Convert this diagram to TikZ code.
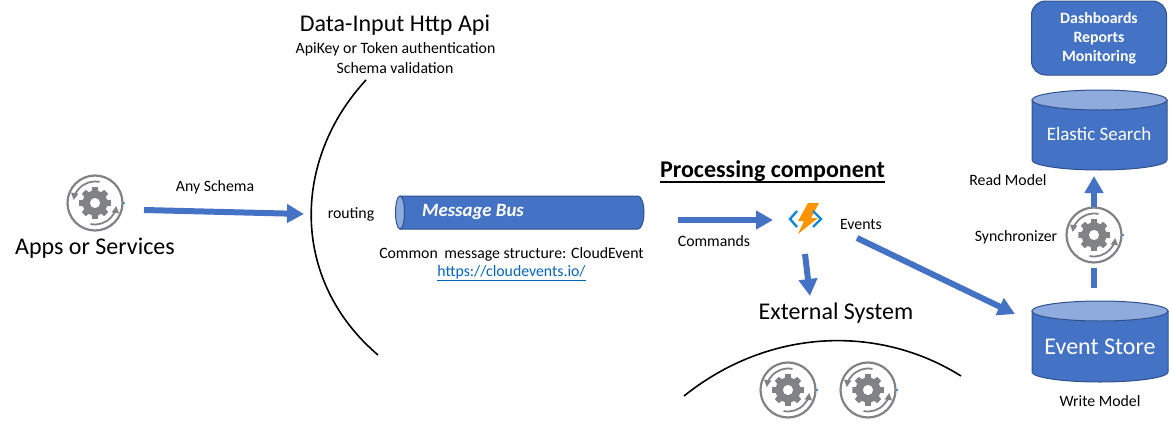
\documentclass[tikz,border=0pt]{standalone}
\usepackage{fontspec}
\setmainfont{Carlito}
\usetikzlibrary{arrows.meta}
\definecolor{busblue}{HTML}{4472C4}
\definecolor{edgeblue}{HTML}{2F528F}
\definecolor{lidblue}{HTML}{8FAADC}
\definecolor{icongrey}{HTML}{808285}
\definecolor{linkblue}{HTML}{0563C1}
\newcommand{\fsz}[1]{\fontsize{#1}{#1}\selectfont}
\tikzset{
  x=1pt,y=-1pt,
  lbl/.style={inner sep=0pt,text=black,font=\fsz{15.8}},
  lblbig/.style={inner sep=0pt,text=black,font=\fsz{24}},
  whitetxt/.style={inner sep=0pt,text=white},
  bigarrow/.style={draw=busblue,line width=6pt,-{Triangle[width=18pt,length=17pt]}},
  plainbar/.style={draw=busblue,line width=6pt},
  curve/.style={draw=black,line width=1.6pt},
  shapebody/.style={fill=busblue,draw=edgeblue,line width=1pt},
  shapelid/.style={fill=lidblue,draw=edgeblue,line width=1pt},
  gearicon/.pic={
    \draw[icongrey,line width=2.2pt] (0,0) circle[radius=27.5];
    \fill[linkblue] (29,0) circle[radius=1];
    \fill[icongrey,even odd rule]
      (0:10) \foreach \a in {0,45,...,315} {
        -- ({\a-15}:12.5) -- ({\a-10}:16) -- ({\a+10}:16) -- ({\a+15}:12.5) -- ({\a+30}:12.5)
      } -- cycle (0,0) circle[radius=5.2];
    \draw[icongrey,line width=1.8pt,-{Triangle[width=7pt,length=7pt]}]
      (-78:21.5) arc[start angle=-78,end angle=-172,radius=21.5];
    \draw[icongrey,line width=1.8pt,-{Triangle[width=7pt,length=7pt]}]
      (102:21.5) arc[start angle=102,end angle=8,radius=21.5];
  }
}
\begin{document}
\begin{tikzpicture}
\useasboundingbox (0,0) rectangle (1171,442);

% curves
\draw[curve] (366,80) .. controls (292,160) and (290,280) .. (378,355);
\draw[curve] (684,396) .. controls (770,327) and (880,325) .. (961,376);

% icons
\pic at (95,203) {gearicon};
\pic at (1094,235) {gearicon};
\pic at (788,390) {gearicon};
\pic at (868,390) {gearicon};

% headings and labels
\node[lblbig] (api) at (395,25) {Data-Input Http Api};
\node[lbl] (auth) at (395.5,49) {ApiKey or Token authentication};
\node[lbl] (schema) at (395,68) {Schema validation};
\node[lbl] (any) at (215,187.5) {Any Schema};
\node[lblbig] (apps) at (95,248) {Apps or Services};
\node[lbl] (routing) at (351,214.5) {routing};
\node[lbl] (common) at (511.5,254.5) {Common\hspace{3pt} message structure: CloudEvent};
\node[lbl,text=linkblue] (link) at (511.5,273) {\underline{https://cloudevents.io/}};
\node[inner sep=0pt,text=black,font=\fsz{24}\bfseries] (proc) at (772.5,171) {Processing component};
\draw[black,line width=1.6pt] (660,182) -- (885,182);
\node[lbl] (commands) at (714,241.5) {Commands};
\node[lbl] (events) at (861,224.5) {Events};
\node[lblbig] (ext) at (836,313) {External System};
\node[lbl] (read) at (1008,180.5) {Read Model};
\node[lbl] (sync) at (1016,237.5) {Synchronizer};
\node[lbl] (write) at (1100,401.5) {Write Model};

% message bus
\path[shapebody] (400,196) -- (638,196) arc[start angle=-90,end angle=90,x radius=6,y radius=16.5] -- (400,229) -- cycle;
\path[shapelid] (400,196) arc[start angle=-90,end angle=270,x radius=4.5,y radius=16.5];
\node[whitetxt,font=\fsz{18.8}\bfseries\itshape] (bus) at (473,212) {Message Bus};

% dashboards
\node[fill=busblue,draw=edgeblue,line width=1pt,rounded corners=14pt,minimum width=135pt,minimum height=74pt,inner sep=0pt,
      text=white,align=center,font=\fsz{15.8}\bfseries] (dash) at (1099,38)
      {Dashboards\\[3pt]Reports\\[3pt]Monitoring};

% elastic search
\path[shapebody] (1032,100) -- (1032,160) arc[start angle=180,end angle=360,x radius=67.5,y radius=-10] -- (1167,100) -- cycle;
\path[shapelid] (1099.5,100) ellipse[x radius=67.5,y radius=10];
\node[whitetxt,font=\fsz{19}] (elastic) at (1099,134) {Elastic Search};

% event store
\path[shapebody] (1032,311) -- (1032,372) arc[start angle=180,end angle=360,x radius=68,y radius=-10] -- (1168,311) -- cycle;
\path[shapelid] (1100,311) ellipse[x radius=68,y radius=10];
\node[whitetxt,font=\fsz{24}] (store) at (1100,347) {Event Store};

% function icon
\fill[orange!85!yellow] (808,203) -- (819,203) -- (811,218) -- (818,218) -- (798,234) -- (804,221) -- (798,221) -- cycle;
\draw[cyan!70!blue,line width=2.4pt] (797,211) -- (790,219) -- (797,227);
\draw[cyan!70!blue,line width=2.4pt] (813,211) -- (821,219) -- (813,227);
\coordinate (fn) at (805,220);

% arrows
\coordinate (a1) at (144,210);
\coordinate (a2) at (304,214);
\draw[bigarrow] (a1) -- (a2);
\coordinate (b1) at (678,220);
\coordinate (b2) at (773,220);
\draw[bigarrow] (b1) -- (b2);
\coordinate (c1) at (805,254);
\coordinate (c2) at (810,296);
\draw[bigarrow] (c1) -- (c2);
\coordinate (d1) at (857,238);
\coordinate (d2) at (1015,314);
\draw[bigarrow] (d1) -- (d2);
\coordinate (e1) at (1094,207);
\coordinate (e2) at (1094,176);
\draw[bigarrow] (e1) -- (e2);
\coordinate (f1) at (1094,268);
\coordinate (f2) at (1094,288);
\draw[plainbar] (f1) -- (f2);
\end{tikzpicture}
\end{document}
